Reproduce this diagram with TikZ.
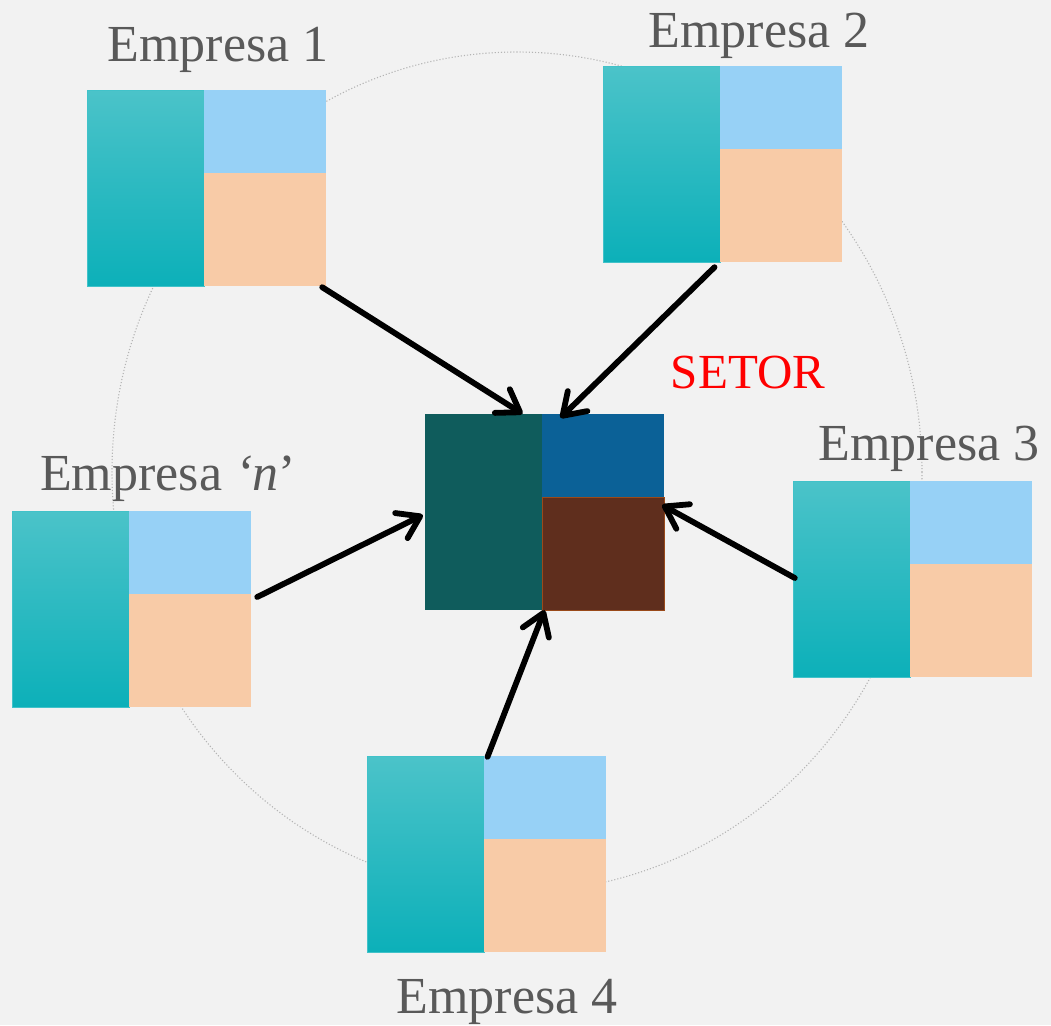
\documentclass[tikz,border=0pt]{standalone}
\usepackage{fontspec}
\setmainfont{Liberation Serif}
\usetikzlibrary{arrows.meta,calc}
\definecolor{bg}{HTML}{F2F2F2}
\definecolor{tealA}{HTML}{4BC3C9}
\definecolor{tealB}{HTML}{1ABEC8}
\definecolor{tealC}{HTML}{0CB0B9}
\definecolor{lblue}{HTML}{97D1F6}
\definecolor{peach}{HTML}{F8CBA7}
\definecolor{dteal}{HTML}{0F5C5C}
\definecolor{dblue}{HTML}{0B6197}
\definecolor{brown}{HTML}{5F2E1D}
\definecolor{brownline}{HTML}{9A4A1A}
\definecolor{txt}{HTML}{595959}
\definecolor{ring}{HTML}{B4B4B4}
\tikzset{
  tealgrad/.style={top color=tealA, middle color=tealB, bottom color=tealC},
  frame/.style={rectangle, minimum width=239pt, minimum height=196pt, inner sep=0pt},
  lbl/.style={anchor=base, text=txt, font=\fontsize{52}{60}\selectfont, inner sep=0pt},
  arr/.style={line width=5.8pt, line cap=round, line join=round, -{Straight Barb[length=21pt,width=28pt,line cap=round,line join=round]}},
}
\newcommand\firm[3]{%
  \fill[tealgrad] (#2,#3) rectangle ++(117,196);
  \draw[tealA!80!tealB, line width=0.8pt] (#2,#3) rectangle ++(117,196);
  \fill[lblue] (#2+117,#3) rectangle ++(122,83);
  \fill[peach] (#2+117,#3+83) rectangle ++(122,113);
  \node[frame] (#1) at (#2+119.5,#3+98) {};
}
\begin{document}
\begin{tikzpicture}[x=1pt,y=-1pt]
\fill[bg] (0,0) rectangle (1051,1025);
\useasboundingbox (0,0) rectangle (1051,1025);
\draw[ring, line width=1.1pt, dotted] (517,472) ellipse [x radius=405, y radius=420];
\firm{e1}{87}{90}
\firm{e2}{603}{66}
\firm{e3}{793}{481}
\firm{en}{12}{511}
\firm{e4}{367}{756}
% central sector
\fill[dteal] (425,414) rectangle (542,610);
\fill[dblue] (542,414) rectangle (664,497);
\fill[brown] (542,497) rectangle (664,610);
\draw[brownline, line width=0.8pt] (542,497) rectangle (664,610);
\node[frame] (c) at (544.5,512) {};
% labels
\node[lbl] (l1) at (218,62) {Empresa 1};
\node[lbl] (l2) at (759,48) {Empresa 2};
\node[lbl] (l3) at (929,460) {Empresa 3};
\node[lbl] (ln) at (168,490) {Empresa \textit{‘n}'};
\node[lbl] (l4) at (507,1013) {Empresa 4};
\node[lbl, text=red, font=\fontsize{49}{58}\selectfont] (ls) at (748,388) {SETOR};
% arrows
\draw[arr] ($(e1.south east)+(-4,1)$) -- ($(c.north)+(-22,0)$);
\draw[arr] ($(e2.south)+(-8,5)$) -- ($(c.north)+(16,4)$);
\draw[arr] ($(e3.west)+(2,-1)$) -- ($(c.east)+(-2,-7)$);
\draw[arr] ($(e4.north)+(1,1)$) -- (c.south);
\draw[arr] ($(en.east)+(6,-12)$) -- ($(c.west)+(-2,3)$);
\end{tikzpicture}
\end{document}
